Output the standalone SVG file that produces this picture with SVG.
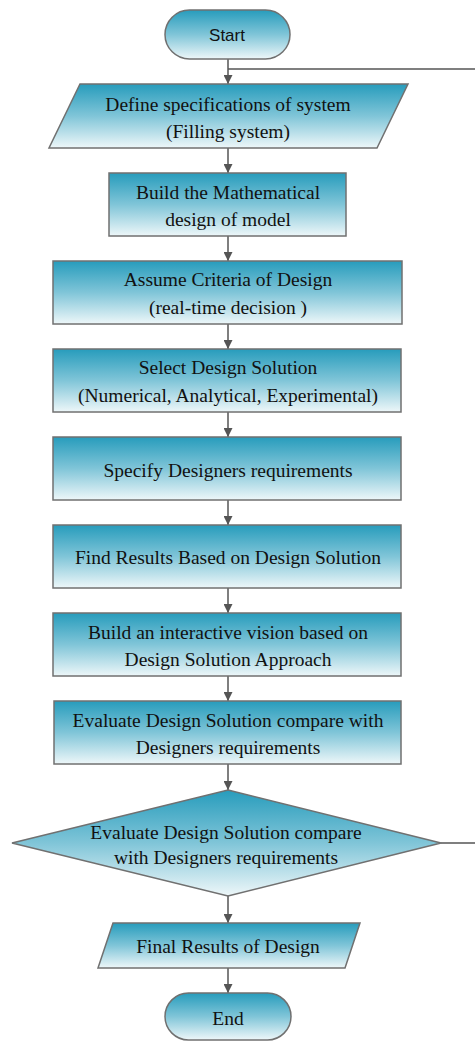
<svg xmlns="http://www.w3.org/2000/svg" width="475" height="1041" viewBox="0 0 475 1041">
  <defs>
    <linearGradient id="fill" x1="0" y1="0" x2="0" y2="1">
      <stop offset="0" stop-color="#279cbc"/>
      <stop offset="0.5" stop-color="#80c5d8"/>
      <stop offset="1" stop-color="#eef7f9"/>
    </linearGradient>
    <marker id="arrow" viewBox="0 0 10 10" refX="10" refY="5" markerWidth="9" markerHeight="9" markerUnits="userSpaceOnUse" orient="auto">
      <path d="M0,0 L10,5 L0,10 Z" fill="#555"/>
    </marker>
    <style>
      .shape { fill: url(#fill); stroke: #707070; stroke-width: 1.5; }
      .edge { stroke: #555; stroke-width: 1.5; fill: none; }
      .lbl { font-family: 'Liberation Serif', 'Times New Roman', serif; font-size: 19.5px; fill: #111; text-anchor: middle; }
      .sans { font-family: 'Liberation Sans', Arial, sans-serif; font-size: 17px; fill: #111; text-anchor: middle; }
    </style>
  </defs>

  <g id="connectors">
    <path class="edge" d="M228,59 V84" marker-end="url(#arrow)"/>
    <path class="edge" d="M228,69 H475"/>
    <path class="edge" d="M228,148 V173" marker-end="url(#arrow)"/>
    <path class="edge" d="M228,236 V261" marker-end="url(#arrow)"/>
    <path class="edge" d="M228,324 V349" marker-end="url(#arrow)"/>
    <path class="edge" d="M228,412 V437" marker-end="url(#arrow)"/>
    <path class="edge" d="M228,500 V525" marker-end="url(#arrow)"/>
    <path class="edge" d="M228,588 V613" marker-end="url(#arrow)"/>
    <path class="edge" d="M228,676 V701" marker-end="url(#arrow)"/>
    <path class="edge" d="M228,764 V790" marker-end="url(#arrow)"/>
    <path class="edge" d="M441,843 H475"/>
    <path class="edge" d="M228,896 V923" marker-end="url(#arrow)"/>
    <path class="edge" d="M228,968 V993" marker-end="url(#arrow)"/>
  </g>

  <g id="start">
    <rect class="shape" x="165" y="10" width="125" height="49" rx="24.5"/>
    <text class="sans" x="227" y="41">Start</text>
  </g>

  <g id="define-specs">
    <polygon class="shape" points="80,84 408,84 377,148 49,148"/>
    <text class="lbl" x="228" y="111">Define specifications of system</text>
    <text class="lbl" x="228" y="138">(Filling system)</text>
  </g>

  <g id="math-model">
    <rect class="shape" x="109" y="173" width="237" height="63"/>
    <text class="lbl" x="228" y="199">Build the Mathematical</text>
    <text class="lbl" x="228" y="226">design of model</text>
  </g>

  <g id="criteria">
    <rect class="shape" x="53" y="261" width="349" height="63"/>
    <text class="lbl" x="228" y="286">Assume Criteria of Design</text>
    <text class="lbl" x="228" y="314">(real-time decision )</text>
  </g>

  <g id="select-solution">
    <rect class="shape" x="53" y="349" width="348" height="63"/>
    <text class="lbl" x="228" y="374">Select Design Solution</text>
    <text class="lbl" x="228" y="402">(Numerical, Analytical, Experimental)</text>
  </g>

  <g id="requirements">
    <rect class="shape" x="53" y="437" width="348" height="63"/>
    <text class="lbl" x="228" y="477">Specify Designers requirements</text>
  </g>

  <g id="find-results">
    <rect class="shape" x="53" y="525" width="348" height="63"/>
    <text class="lbl" x="228" y="564">Find Results Based on Design Solution</text>
  </g>

  <g id="interactive-vision">
    <rect class="shape" x="53" y="613" width="348" height="63"/>
    <text class="lbl" x="228" y="639">Build an interactive vision based on</text>
    <text class="lbl" x="228" y="666">Design Solution Approach</text>
  </g>

  <g id="evaluate">
    <rect class="shape" x="54" y="701" width="347" height="63"/>
    <text class="lbl" x="228" y="727">Evaluate Design Solution compare with</text>
    <text class="lbl" x="228" y="754">Designers requirements</text>
  </g>

  <g id="decision">
    <polygon class="shape" points="228,790 441,843 228,896 12,843"/>
    <text class="lbl" x="226" y="839">Evaluate Design Solution compare</text>
    <text class="lbl" x="226" y="864">with Designers requirements</text>
  </g>

  <g id="final-results">
    <polygon class="shape" points="113,923 360,923 345,968 98,968"/>
    <text class="lbl" x="228" y="953">Final Results of Design</text>
  </g>

  <g id="end">
    <rect class="shape" x="165" y="993" width="126" height="47" rx="23.5"/>
    <text class="lbl" x="228" y="1025">End</text>
  </g>
</svg>
